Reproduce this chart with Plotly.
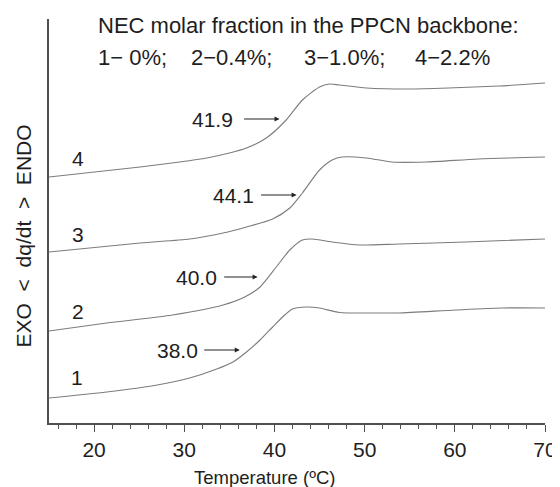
import plotly.graph_objects as go

# Temperature (°C) and heat-flow signal (arbitrary units, offset curves)
t1 = [15.0, 21.4, 27.0, 30.6, 33.6, 35.4, 36.9, 38.4, 39.8, 40.9, 42.0, 43.5, 45.0, 47.2, 51.6, 53.8, 60.1, 65.2, 70.0]
s1 = [25, 31, 38, 45, 54, 61, 71, 83, 96, 106, 114, 116, 115, 110.5, 110, 110, 113, 115, 115]

t2 = [15.0, 21.4, 28.7, 34.3, 36.7, 38.4, 40.2, 41.7, 43.1, 44.2, 46.4, 49.4, 53.8, 61.2, 70.0]
s2 = [92, 100, 108, 118, 126, 136, 156, 173, 183, 184, 181, 178, 179, 181, 184]

t3 = [15.0, 25.1, 30.6, 34.3, 36.9, 39.8, 41.7, 43.1, 45.0, 46.4, 47.5, 50.2, 53.0, 56.8, 62.6, 70.0]
s3 = [171, 180, 184, 190, 196, 204, 215, 230, 253, 263, 266, 265, 261, 261, 264, 266]

t4 = [15.0, 25.1, 29.5, 32.5, 35.0, 36.9, 39.1, 41.3, 43.1, 45.0, 46.1, 47.2, 50.2, 54.9, 59.3, 64.9, 70.0]
s4 = [246, 256, 261, 265, 270, 275, 285, 303, 323, 336, 339, 338, 335, 334, 335, 337, 340]

curve_names = ["1", "2", "3", "4"]
tg_labels = ["38.0", "40.0", "44.1", "41.9"]
major_ticks = [20, 30, 40, 50, 60, 70]
minor_ticks = [16, 18, 22, 24, 26, 28, 32, 34, 36, 38, 42, 44, 46, 48, 52, 54, 56, 58, 62, 64, 66, 68]

title_line1 = "NEC molar fraction in the PPCN backbone:"
title_parts = ["1\u2212 0%;", "2\u22120.4%;", "3\u22121.0%;", "4\u22122.2%"]

FONT = "Liberation Sans, Arial, sans-serif"
TXT = "#1e1e1e"
CURVE = "#7c7c7c"
AXIS = "#505050"

fig = go.Figure()
for t, s in [(t1, s1), (t2, s2), (t3, s3), (t4, s4)]:
    fig.add_trace(go.Scatter(x=t, y=s, mode="lines", line=dict(color=CURVE, width=1.1, shape="spline", smoothing=0.7),
                             showlegend=False, hoverinfo="skip"))

ann = []
# curve numbers
num_pos = [(18.1, 46), (18.2, 112), (18.2, 189), (18.2, 265)]
for name, (x, y) in zip(curve_names, num_pos):
    ann.append(dict(x=x, y=y, text=name, showarrow=False, font=dict(size=21, color=TXT, family=FONT)))

# Tg labels with arrows
lab_pos = [(29.3, 73), (31.3, 146), (35.5, 228), (33.15, 304)]
arr = [(32.05, 36.15, 73), (34.26, 38.13, 146), (38.35, 42.45, 228), (36.47, 40.56, 304)]
for lab, (x, y), (xa, xb, ya) in zip(tg_labels, lab_pos, arr):
    ann.append(dict(x=x, y=y, text=lab, showarrow=False, font=dict(size=21, color=TXT, family=FONT)))
    ann.append(dict(x=xb, y=ya, ax=xa, ay=ya, axref="x", ayref="y", text="", showarrow=True,
                    arrowhead=2, arrowsize=0.9, arrowwidth=1.1, arrowcolor="#222222", standoff=0, startstandoff=0))

# header
ann.append(dict(x=20.2, y=398, text=title_line1, showarrow=False, xanchor="left", yanchor="middle",
                font=dict(size=22, color=TXT, family=FONT)))
part_x = [20.2, 30.5, 43.1, 55.4]
for p, x in zip(title_parts, part_x):
    ann.append(dict(x=x, y=366, text=p, showarrow=False, xanchor="left", yanchor="middle",
                    font=dict(size=22, color=TXT, family=FONT)))

# axis titles
ann.append(dict(x=-0.0516, xref="paper", y=187, xanchor="center", yanchor="middle",
                text="EXO\u00a0\u00a0<\u00a0\u00a0dq/dt\u00a0\u00a0>\u00a0\u00a0ENDO", textangle=-90,
                showarrow=False, font=dict(size=21, color=TXT, family=FONT)))
ann.append(dict(x=38.85, y=-0.136, yref="paper", xanchor="center", yanchor="middle", text="Temperature (\u00baC)",
                showarrow=False, font=dict(size=18.5, color=TXT, family=FONT)))

# the page body has an 8 px default margin, so the figure is placed 8 px right/down
fig.update_layout(
    width=560, height=487,
    margin=dict(l=40.7, r=21.3, t=11, b=71.7),
    paper_bgcolor="white", plot_bgcolor="white",
    annotations=ann,
    xaxis=dict(range=[15, 70], showgrid=False, zeroline=False, showline=True, linecolor=AXIS, linewidth=1.5,
               tickmode="array", tickvals=major_ticks, ticks="outside", ticklen=7, tickwidth=1.2, tickcolor=AXIS,
               ticklabelstandoff=0,
               tickfont=dict(size=21, color=TXT, family=FONT),
               minor=dict(tickmode="array", tickvals=minor_ticks, ticks="outside", ticklen=4, tickwidth=1.1, tickcolor=AXIS)),
    yaxis=dict(range=[0, 404], showgrid=False, zeroline=False, showline=True, linecolor=AXIS, linewidth=1.5,
               showticklabels=False, ticks=""),
)

fig.write_html("out.html")
